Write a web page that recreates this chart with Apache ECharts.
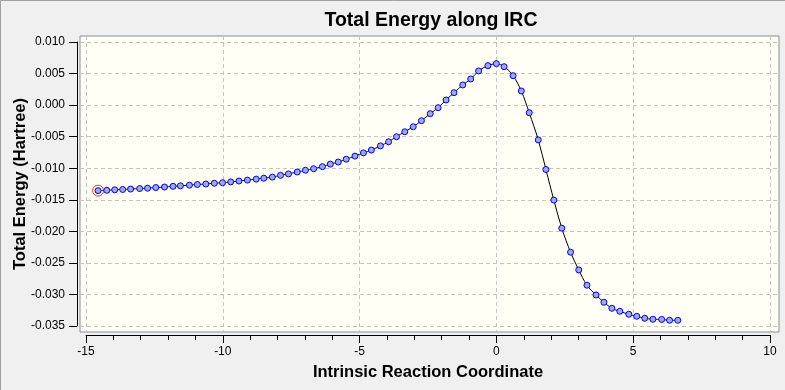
<!DOCTYPE html>
<html>
<head>
<meta charset="utf-8">
<script src="https://cdn.jsdelivr.net/npm/echarts@6/dist/echarts.min.js"></script>
<style>
html,body{margin:0;padding:0;background:#F0F0F0;}
#chart{width:785px;height:390px;}
</style>
</head>
<body>
<div id="chart"></div>
<script>
// Intrinsic reaction coordinate (x)
const ircCoord = [
  -14.56, -14.24, -13.95, -13.66, -13.37, -13.04, -12.75, -12.45, -12.13, -11.82,
  -11.55, -11.22, -10.93, -10.62, -10.31, -10.01, -9.71, -9.41, -9.10, -8.78,
  -8.50, -8.19, -7.89, -7.60, -7.28, -6.98, -6.68, -6.36, -6.07, -5.78,
  -5.49, -5.17, -4.86, -4.57, -4.24, -3.94, -3.65, -3.35, -3.04, -2.74,
  -2.42, -2.13, -1.84, -1.55, -1.23, -0.94, -0.65, -0.31, 0.00, 0.28,
  0.61, 0.91, 1.20, 1.53, 1.81, 2.10, 2.39, 2.71, 3.01, 3.31,
  3.64, 3.93, 4.22, 4.51, 4.84, 5.13, 5.42, 5.72, 6.04, 6.33, 6.63
];
// Total energy (Hartree)
const totalEnergy = [
  -0.01355, -0.01350, -0.01342, -0.01337, -0.01330, -0.01322, -0.01316, -0.01306, -0.01298, -0.01287,
  -0.01279, -0.01268, -0.01258, -0.01250, -0.01238, -0.01230, -0.01217, -0.01203, -0.01188, -0.01173,
  -0.01158, -0.01141, -0.01113, -0.01090, -0.01060, -0.01032, -0.01008, -0.00975, -0.00935, -0.00902,
  -0.00857, -0.00808, -0.00757, -0.00712, -0.00646, -0.00581, -0.00501, -0.00422, -0.00343, -0.00247,
  -0.00136, -0.00041, 0.00081, 0.00197, 0.00319, 0.00414, 0.00541, 0.00625, 0.00657, 0.00609,
  0.00466, 0.00224, -0.00121, -0.00551, -0.01020, -0.01505, -0.01950, -0.02330, -0.02611, -0.02854,
  -0.03008, -0.03124, -0.03219, -0.03267, -0.03314, -0.03346, -0.03377, -0.03393, -0.03396, -0.03409, -0.03410
];
// Axis settings
const xTicks = {min: -15, max: 10, step: 5};
const yTicks = {min: -0.035, max: 0.010, step: 0.005};
const titleText = 'Total Energy along IRC';
const xName = 'Intrinsic Reaction Coordinate';
const yName = 'Total Energy (Hartree)';

const FONT = 'Liberation Sans, Arial, sans-serif';
const points = ircCoord.map((x, i) => [x, totalEnergy[i]]);

// layout of the data area and the surrounding frame
const data = {left: 86, top: 42, width: 684, height: 284};
const frame = {left: 80, top: 36, width: 699, height: 296};
const xpx = data.width / (xTicks.max - xTicks.min);
const ypx = data.height / (yTicks.max - yTicks.min);
const fxMin = xTicks.min - (data.left - frame.left) / xpx;
const fxMax = xTicks.max + ((frame.left + frame.width) - (data.left + data.width)) / xpx;
const fyMax = yTicks.max + (data.top - frame.top) / ypx;
const fyMin = yTicks.min - ((frame.top + frame.height) - (data.top + data.height)) / ypx;

const chart = echarts.init(document.getElementById('chart'), null, {renderer: 'canvas'});
chart.setOption({
  animation: false,
  backgroundColor: '#F0F0F0',
  title: {
    text: titleText,
    left: 426, top: 6, textAlign: 'center',
    textStyle: {fontFamily: FONT, fontSize: 19.5, fontWeight: 'bold', color: '#000'}
  },
  graphic: [{
    type: 'rect', silent: true, z: 100,
    shape: {x: 0.5, y: 0.5, width: 820, height: 420},
    style: {fill: 'none', stroke: '#A0A0A0', lineWidth: 1}
  }],
  grid: [
    {left: frame.left, top: frame.top, width: frame.width, height: frame.height,
     outerBoundsMode: 'none', containLabel: false,
     show: true, backgroundColor: '#FFFFF5', borderColor: '#878C96', borderWidth: 1},
    {left: data.left, top: data.top, width: data.width, height: data.height,
     outerBoundsMode: 'none', containLabel: false, show: false}
  ],
  xAxis: [
    {gridIndex: 0, type: 'value', min: fxMin, max: fxMax, splitNumber: 5,
     axisLine: {show: false}, axisTick: {show: false}, axisLabel: {show: false},
     splitLine: {show: true, showMinLine: false, showMaxLine: false,
       lineStyle: {color: '#C4C4C4', type: [4, 3], width: 1}}},
    {gridIndex: 1, type: 'value', min: xTicks.min, max: xTicks.max, interval: xTicks.step,
     position: 'bottom', offset: 9,
     axisLine: {show: true, onZero: false, lineStyle: {color: '#000', width: 1}},
     axisTick: {show: true, length: 8, lineStyle: {color: '#000'}},
     minorTick: {show: true, splitNumber: 5, length: 5, lineStyle: {color: '#000'}},
     axisLabel: {color: '#000', fontFamily: FONT, fontSize: 12, margin: 11},
     splitLine: {show: false},
     name: xName, nameLocation: 'middle', nameGap: 29, nameMoveOverlap: false,
     nameTextStyle: {fontFamily: FONT, fontSize: 16.5, fontWeight: 'bold', color: '#000'}}
  ],
  yAxis: [
    {gridIndex: 0, type: 'value', min: fyMin, max: fyMax, splitNumber: 9,
     axisLine: {show: false}, axisTick: {show: false}, axisLabel: {show: false},
     splitLine: {show: true, showMinLine: false, showMaxLine: false,
       lineStyle: {color: '#C4C4C4', type: [4, 3], width: 1}}},
    {gridIndex: 1, type: 'value', min: yTicks.min, max: yTicks.max, interval: yTicks.step,
     position: 'left', offset: 9,
     axisLine: {show: true, onZero: false, lineStyle: {color: '#000', width: 1}},
     axisTick: {show: true, length: 8, lineStyle: {color: '#000'}},
     axisLabel: {color: '#000', fontFamily: FONT, fontSize: 12, margin: 12,
       formatter: v => v.toFixed(3)},
     splitLine: {show: false},
     name: yName, nameLocation: 'middle', nameGap: 48, nameMoveOverlap: false,
     nameTextStyle: {fontFamily: FONT, fontSize: 16.5, fontWeight: 'bold', color: '#000'}}
  ],
  series: [
    {type: 'line', xAxisIndex: 1, yAxisIndex: 1, data: points,
     smooth: 0.35, symbol: 'circle', symbolSize: 6, showSymbol: true,
     lineStyle: {color: '#000', width: 1},
     itemStyle: {color: '#A2AAD8', borderColor: '#0000FF', borderWidth: 1},
     z: 3},
    {type: 'scatter', xAxisIndex: 1, yAxisIndex: 1, data: [points[0]],
     symbol: 'circle', symbolSize: 11,
     itemStyle: {color: 'rgba(0,0,0,0)', borderColor: '#FF0000', borderWidth: 1},
     z: 4}
  ]
});
</script>
</body>
</html>
